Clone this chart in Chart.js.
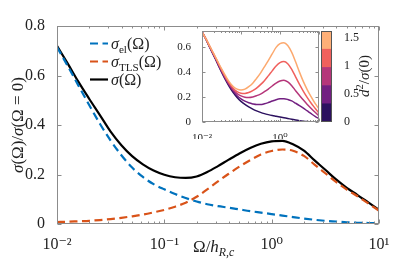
<!DOCTYPE html>
<html>
<head>
<meta charset="utf-8">
<script src="https://cdn.jsdelivr.net/npm/chart.js@4.4.1/dist/chart.umd.min.js"></script>
<style>
  html, body { margin: 0; padding: 0; background: #fff; }
  #wrap { position: relative; width: 415px; height: 262px; overflow: hidden; }
  canvas { position: absolute; }
  #mainChart { left: 0; top: 0; }
  #insetChart { left: 168px; top: 19px; }
  #barChart { left: 316px; top: 19px; }
</style>
</head>
<body>
<div id="wrap">
  <canvas id="mainChart" width="415" height="262"></canvas>
  <canvas id="insetChart" width="152" height="120"></canvas>
  <canvas id="barChart" width="84" height="120"></canvas>
</div>
<script>
// sample positions (Omega / h_Rc), log spaced
const omega = [0.01, 0.0126, 0.0158, 0.02, 0.0251, 0.0316, 0.0398, 0.0501, 0.0631, 0.0794,
  0.1, 0.126, 0.158, 0.2, 0.251, 0.316, 0.398, 0.501, 0.631, 0.794,
  1, 1.26, 1.58, 2, 2.51, 3.16, 3.98, 5.01, 6.31, 7.94, 10];

// main panel
const sigmaEl = [0.715, 0.638, 0.56, 0.48, 0.405, 0.337, 0.278, 0.228, 0.19, 0.161,
  0.14, 0.121, 0.105, 0.091, 0.08, 0.072, 0.066, 0.059, 0.052, 0.046,
  0.04, 0.034, 0.028, 0.022, 0.017, 0.013, 0.01, 0.007, 0.005, 0.004, 0.003];
const sigmaTLS = [0.008, 0.009, 0.011, 0.013, 0.016, 0.02, 0.025, 0.031, 0.038, 0.047,
  0.057, 0.07, 0.086, 0.11, 0.14, 0.172, 0.203, 0.232, 0.258, 0.281,
  0.295, 0.301, 0.296, 0.275, 0.24, 0.205, 0.17, 0.139, 0.112, 0.083, 0.054];
const sigmaTot = [0.72, 0.648, 0.575, 0.505, 0.44, 0.373, 0.318, 0.274, 0.241, 0.216,
  0.199, 0.189, 0.186, 0.192, 0.21, 0.234, 0.26, 0.285, 0.307, 0.324,
  0.334, 0.336, 0.322, 0.296, 0.257, 0.219, 0.18, 0.146, 0.117, 0.087, 0.057];

// inset, one curve per d^2/sigma(0) band (light -> dark)
const insetD4 = [0.72, 0.665, 0.605, 0.545, 0.485, 0.425, 0.37, 0.32, 0.283, 0.262,
  0.255, 0.262, 0.282, 0.31, 0.348, 0.39, 0.44, 0.49, 0.543, 0.595,
  0.625, 0.633, 0.61, 0.555, 0.48, 0.398, 0.322, 0.257, 0.2, 0.148, 0.105];
const insetD3 = [0.72, 0.664, 0.603, 0.542, 0.48, 0.418, 0.36, 0.31, 0.27, 0.243,
  0.23, 0.228, 0.235, 0.25, 0.27, 0.298, 0.33, 0.368, 0.408, 0.447,
  0.474, 0.482, 0.465, 0.42, 0.36, 0.30, 0.245, 0.195, 0.15, 0.11, 0.07];
const insetD2 = [0.72, 0.663, 0.60, 0.538, 0.475, 0.412, 0.352, 0.30, 0.258, 0.227,
  0.208, 0.198, 0.196, 0.20, 0.21, 0.223, 0.242, 0.263, 0.287, 0.31,
  0.327, 0.333, 0.32, 0.29, 0.25, 0.212, 0.175, 0.14, 0.108, 0.078, 0.05];
const insetD1 = [0.72, 0.662, 0.598, 0.535, 0.47, 0.406, 0.345, 0.292, 0.246, 0.21,
  0.185, 0.166, 0.153, 0.144, 0.139, 0.139, 0.145, 0.155, 0.167, 0.178,
  0.185, 0.186, 0.18, 0.168, 0.15, 0.131, 0.11, 0.088, 0.066, 0.045, 0.027];
const insetD0 = [0.72, 0.66, 0.595, 0.53, 0.465, 0.40, 0.338, 0.283, 0.235, 0.196,
  0.165, 0.14, 0.12, 0.103, 0.089, 0.077, 0.067, 0.059, 0.052, 0.046,
  0.04, 0.034, 0.028, 0.022, 0.016, 0.011, 0.007, 0.004, 0.002, 0.001, 0.0];
const insetColors = ['#fca96f', '#f0605d', '#b5367a', '#721f81', '#2c115f'];

// colorbar bands
const barEdges = [0, 0.326, 0.652, 0.978, 1.304, 1.63];
const barColors = ['#2c115f', '#721f81', '#b5367a', '#f0605d', '#feaf77'];
const barTicks = [0, 0.5, 1, 1.5];
const barTickLabels = ['0', '0.5', '1', '1.5'];

// ticks
const mainYTicks = [0, 0.2, 0.4, 0.6, 0.8];
const mainXTicks = [0.01, 0.1, 1, 10];
const mainXLabels = ['10⁻²', '10⁻¹', '10⁰', '10¹'];
const insetYTicks = [0, 0.2, 0.4, 0.6];
const insetXTicks = [0.01, 1];
const insetXLabels = ['10⁻²', '10⁰'];

const FONT = '"Liberation Serif", "DejaVu Serif", serif';
const TEXT = '#222';
Chart.defaults.font.family = FONT;
Chart.defaults.color = TEXT;

const pts = ys => ys.map((y, i) => ({ x: omega[i], y }));

// rich text: parts [{t, it, sub, sup}]
function richWidth(ctx, parts, size) {
  let w = 0;
  parts.forEach(p => {
    const s = (p.sub || p.sup) ? size * 0.7 : size;
    ctx.font = (p.it ? 'italic ' : '') + s + 'px ' + FONT;
    w += ctx.measureText(p.t).width;
  });
  return w;
}
function drawRich(ctx, parts, x, y, size) {
  let cx = x;
  parts.forEach(p => {
    const s = (p.sub || p.sup) ? size * 0.7 : size;
    ctx.font = (p.it ? 'italic ' : '') + s + 'px ' + FONT;
    const dy = p.sub ? size * 0.25 : (p.sup ? -size * 0.4 : 0);
    ctx.fillText(p.t, cx, y + dy);
    cx += ctx.measureText(p.t).width;
  });
}

function minorTicks(min, max) {
  const out = [];
  for (let d = min; d < max; d *= 10) {
    for (let k = 2; k <= 9; k++) out.push(d * k);
  }
  return out;
}

// box + inward ticks, MATLAB style
const framePlugin = {
  id: 'frame',
  afterDatasetsDraw(chart, args, opts) {
    if (!opts.on) return;
    const { ctx, chartArea: a, scales } = chart;
    const L = Math.round(a.left) + 0.5, R = Math.round(a.right) - 0.5;
    const T = Math.round(a.top) + 0.5, B = Math.round(a.bottom) - 0.5;
    ctx.save();
    ctx.strokeStyle = opts.color;
    ctx.lineWidth = 1;
    ctx.setLineDash([]);
    ctx.beginPath();
    opts.yTicks.forEach(v => {
      const py = Math.round(scales.y.getPixelForValue(v)) + 0.5;
      ctx.moveTo(L, py); ctx.lineTo(L + opts.len, py);
      ctx.moveTo(R, py); ctx.lineTo(R - opts.len, py);
    });
    opts.xMajor.forEach(v => {
      const px = Math.round(scales.x.getPixelForValue(v)) + 0.5;
      ctx.moveTo(px, B); ctx.lineTo(px, B - opts.len);
      ctx.moveTo(px, T); ctx.lineTo(px, T + opts.len);
    });
    minorTicks(opts.xMajor[0], opts.xMajor[opts.xMajor.length - 1]).forEach(v => {
      const px = Math.round(scales.x.getPixelForValue(v)) + 0.5;
      ctx.moveTo(px, B); ctx.lineTo(px, B - opts.len / 2);
      ctx.moveTo(px, T); ctx.lineTo(px, T + opts.len / 2);
    });
    ctx.stroke();
    ctx.strokeRect(L, T, R - L, B - T);
    ctx.restore();
  }
};

// legend and axis titles of the main panel
const mainTextPlugin = {
  id: 'mainText',
  afterDraw(chart) {
    const ctx = chart.ctx;
    ctx.save();
    ctx.fillStyle = TEXT;
    ctx.textBaseline = 'alphabetic';
    ctx.textAlign = 'left';

    const entries = [
      [{ t: 'σ', it: true }, { t: 'el', sub: true }, { t: '(Ω)' }],
      [{ t: 'σ', it: true }, { t: 'TLS', sub: true }, { t: '(Ω)' }],
      [{ t: 'σ', it: true }, { t: '(Ω)' }]
    ];
    const rowY = [43.5, 61.5, 79.5];
    entries.forEach((parts, i) => {
      const ds = chart.data.datasets[i];
      ctx.strokeStyle = ds.borderColor;
      ctx.lineWidth = ds.borderWidth;
      ctx.setLineDash(ds.borderDash || []);
      ctx.beginPath();
      ctx.moveTo(90, rowY[i]); ctx.lineTo(108, rowY[i]);
      ctx.stroke();
      ctx.setLineDash([]);
      drawRich(ctx, parts, 111, rowY[i] + 5, 16);
    });

    // x title
    const xt = [{ t: 'Ω/' }, { t: 'h', it: true }, { t: 'R,c', it: true, sub: true }];
    drawRich(ctx, xt, 193, 252, 17);

    // y title, rotated
    const yt = [{ t: 'σ', it: true }, { t: '(Ω)/' }, { t: 'σ', it: true }, { t: '(Ω = 0)' }];
    const w = richWidth(ctx, yt, 17);
    ctx.translate(23, 125);
    ctx.rotate(-Math.PI / 2);
    drawRich(ctx, yt, -w / 2, 0, 17);
    ctx.restore();
  }
};

const barTitlePlugin = {
  id: 'barTitle',
  afterDraw(chart) {
    const ctx = chart.ctx;
    const a = chart.chartArea;
    ctx.save();
    ctx.strokeStyle = '#555';
    ctx.lineWidth = 1;
    ctx.strokeRect(Math.round(a.left) + 0.5, Math.round(a.top) + 0.5,
      Math.round(a.right - a.left) - 1, Math.round(a.bottom - a.top) - 1);
    ctx.fillStyle = TEXT;
    ctx.textBaseline = 'alphabetic';
    const parts = [{ t: 'd', it: true }, { t: '2', sup: true }, { t: '/' }, { t: 'σ', it: true }, { t: '(0)' }];
    const w = richWidth(ctx, parts, 15);
    ctx.translate(369 - 316, 76 - 19);
    ctx.rotate(-Math.PI / 2);
    drawRich(ctx, parts, -w / 2, 0, 15);
    ctx.restore();
  }
};

Chart.register(framePlugin);

// main chart
new Chart(document.getElementById('mainChart'), {
  type: 'line',
  data: {
    datasets: [
      { label: 'σel(Ω)', data: pts(sigmaEl), borderColor: '#0072bd', borderWidth: 2.2, borderDash: [8, 4.5] },
      { label: 'σTLS(Ω)', data: pts(sigmaTLS), borderColor: '#d95319', borderWidth: 2.2, borderDash: [8, 4.5] },
      { label: 'σ(Ω)', data: pts(sigmaTot), borderColor: '#000000', borderWidth: 2.2 }
    ]
  },
  options: {
    responsive: false,
    animation: false,
    events: [],
    layout: { padding: { left: 0, top: 26, right: 36, bottom: 0 } },
    elements: { point: { radius: 0 }, line: { cubicInterpolationMode: 'monotone', fill: false } },
    plugins: {
      legend: { display: false },
      tooltip: { enabled: false },
      frame: { on: true, color: '#8c8c8c', len: 4, yTicks: mainYTicks, xMajor: mainXTicks }
    },
    scales: {
      x: {
        type: 'logarithmic', min: 0.01, max: 10,
        grid: { display: false }, border: { display: false },
        afterBuildTicks: s => { s.ticks = mainXTicks.map(v => ({ value: v })); },
        afterFit: s => { s.height = 38; },
        ticks: { font: { size: 16 }, padding: 3, maxRotation: 0,
          callback: (v, i) => mainXLabels[i] }
      },
      y: {
        min: 0, max: 0.8,
        grid: { display: false }, border: { display: false },
        afterBuildTicks: s => { s.ticks = mainYTicks.map(v => ({ value: v })); },
        afterFit: s => { s.width = 57; },
        ticks: { font: { size: 16 }, padding: 4 }
      }
    }
  },
  plugins: [mainTextPlugin]
});

// inset chart
const insetSets = [insetD4, insetD3, insetD2, insetD1, insetD0];
new Chart(document.getElementById('insetChart'), {
  type: 'line',
  data: {
    datasets: insetSets.map((ys, i) => ({
      data: pts(ys), borderColor: insetColors[i], borderWidth: 1.5
    }))
  },
  options: {
    responsive: false,
    animation: false,
    events: [],
    layout: { padding: { left: 0, top: 12, right: 1, bottom: 0 } },
    elements: { point: { radius: 0 }, line: { cubicInterpolationMode: 'monotone', fill: false } },
    plugins: {
      legend: { display: false },
      tooltip: { enabled: false },
      frame: { on: true, color: '#8c8c8c', len: 3, yTicks: insetYTicks, xMajor: [0.01, 0.1, 1, 10] }
    },
    scales: {
      x: {
        type: 'logarithmic', min: 0.01, max: 10,
        grid: { display: false }, border: { display: false },
        afterBuildTicks: s => { s.ticks = insetXTicks.map(v => ({ value: v })); },
        afterFit: s => { s.height = 17; },
        ticks: { font: { size: 11 }, padding: 2, maxRotation: 0,
          callback: (v, i) => insetXLabels[i] }
      },
      y: {
        min: 0, max: 0.726,
        grid: { display: false }, border: { display: false },
        afterBuildTicks: s => { s.ticks = insetYTicks.map(v => ({ value: v })); },
        afterFit: s => { s.width = 34; },
        ticks: { font: { size: 11 }, padding: 3 }
      }
    }
  }
});

// colorbar
new Chart(document.getElementById('barChart'), {
  type: 'bar',
  data: {
    labels: [''],
    datasets: barColors.map((c, i) => ({
      data: [[barEdges[i], barEdges[i + 1]]],
      backgroundColor: c, borderWidth: 0,
      barPercentage: 1, categoryPercentage: 1, grouped: false
    }))
  },
  options: {
    responsive: false,
    animation: false,
    events: [],
    layout: { padding: { left: 5, top: 12, right: 0, bottom: 17 } },
    plugins: { legend: { display: false }, tooltip: { enabled: false } },
    scales: {
      x: { display: false },
      y: {
        position: 'right', min: 0, max: 1.63,
        grid: { display: false }, border: { display: false },
        afterBuildTicks: s => { s.ticks = barTicks.map(v => ({ value: v })); },
        afterFit: s => { s.width = 68; },
        ticks: { font: { size: 12 }, padding: 4, callback: (v, i) => barTickLabels[i] }
      }
    }
  },
  plugins: [barTitlePlugin]
});
</script>
</body>
</html>
